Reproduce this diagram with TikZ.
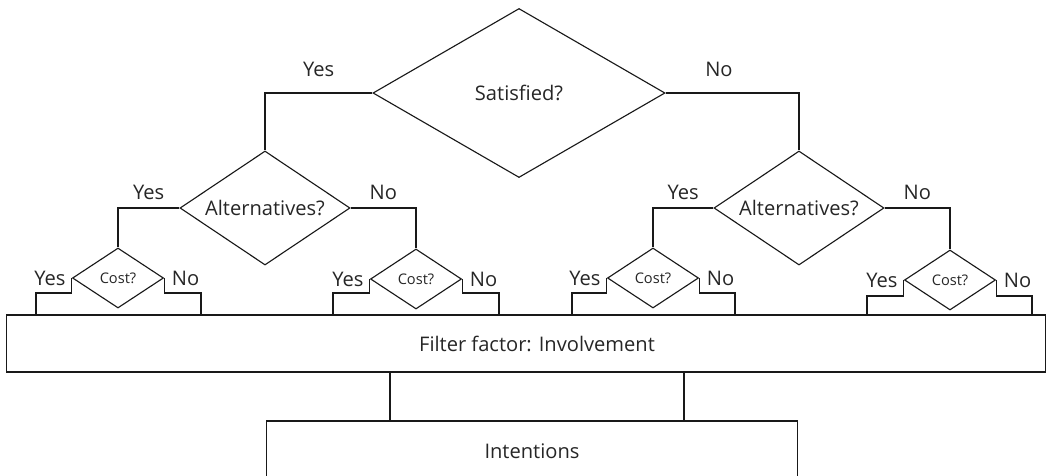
\documentclass[tikz,border=0pt]{standalone}
\usepackage{fontspec}
\setmainfont{Open Sans}
\usetikzlibrary{shapes.geometric}
\tikzset{
decision/.style={
  diamond,
  draw=black!90,
  line width=0.8pt,
  inner sep=0pt,
  aspect=1.5,
  text=black!85,
  font=\fontsize{14.3}{16}\selectfont
},
big decision/.style={decision, minimum width=7.3cm, minimum height=4.225cm},
mid decision/.style={decision, minimum width=4.25cm, minimum height=2.85cm},
cost decision/.style={decision, minimum width=2.275cm, minimum height=1.5cm,
  font=\fontsize{10.4}{12}\selectfont},
factor/.style={
  rectangle,
  draw=black!90,
  line width=0.8pt,
  text=black!85,
  font=\fontsize{14.3}{16}\selectfont
},
answer/.style={text=black!85, font=\fontsize{14.3}{16}\selectfont},
link/.style={draw=black!90, line width=0.8pt}
}

\begin{document}
\begin{tikzpicture}[x=0.025cm, y=-0.025cm]
\clip (0,0) rectangle (1046,475);
\node (satisfied) [big decision] at (519,93) {Satisfied?};
\node (altL) [mid decision] at (265,208) {Alternatives?};
\node (altR) [mid decision] at (799,208) {Alternatives?};
\node (filter) [factor, minimum width=25.95cm, minimum height=1.425cm] at (526,343.5)
  {\hspace*{0.55cm}Filter factor: Involvement};
\node (intentions) [factor, minimum width=13.25cm, minimum height=1.5cm] at (532,451)
  {Intentions};
% the cost diamonds and their steps down to the filter
\foreach \n/\x/\y/\l/\r/\s in {1/118/278/36/201/15, 2/416/279/333/499/14,
                               3/653/278/572/735/15, 4/950/280/867/1032/16}
{
  \node (cost\n) [cost decision] at (\x,\y) {Cost?};
  \node [answer, left=1pt] at (cost\n.west) {Yes};
  \node [answer, right=2pt] at (cost\n.east) {No};
  \draw [link] (cost\n.west) -- ++(0,\s) -| (\l,0 |- filter.north);
  \draw [link] (cost\n.east) -- ++(0,\s) -| (\r,0 |- filter.north);
}
% the branches
\draw [link] (satisfied.west) -| node[answer, pos=.25, above=8pt] {Yes} (altL.north);
\draw [link] (satisfied.east) -| node[answer, pos=.2, above=8pt] {No} (altR.north);
\draw [link] (altL.west) -| node[answer, pos=.25, above=2pt] {Yes} (cost1.north);
\draw [link] (altL.east) -| node[answer, pos=.25, above=2pt] {No} (cost2.north);
\draw [link] (altR.west) -| node[answer, pos=.25, above=2pt] {Yes} (cost3.north);
\draw [link] (altR.east) -| node[answer, pos=.25, above=2pt] {No} (cost4.north);
% filter to intentions
\draw [link] ([xshift=-3.4cm]filter.south) -- ([xshift=-3.4cm]filter.south |- intentions.north);
\draw [link] ([xshift=3.95cm]filter.south) -- ([xshift=3.95cm]filter.south |- intentions.north);
\end{tikzpicture}
\end{document}
